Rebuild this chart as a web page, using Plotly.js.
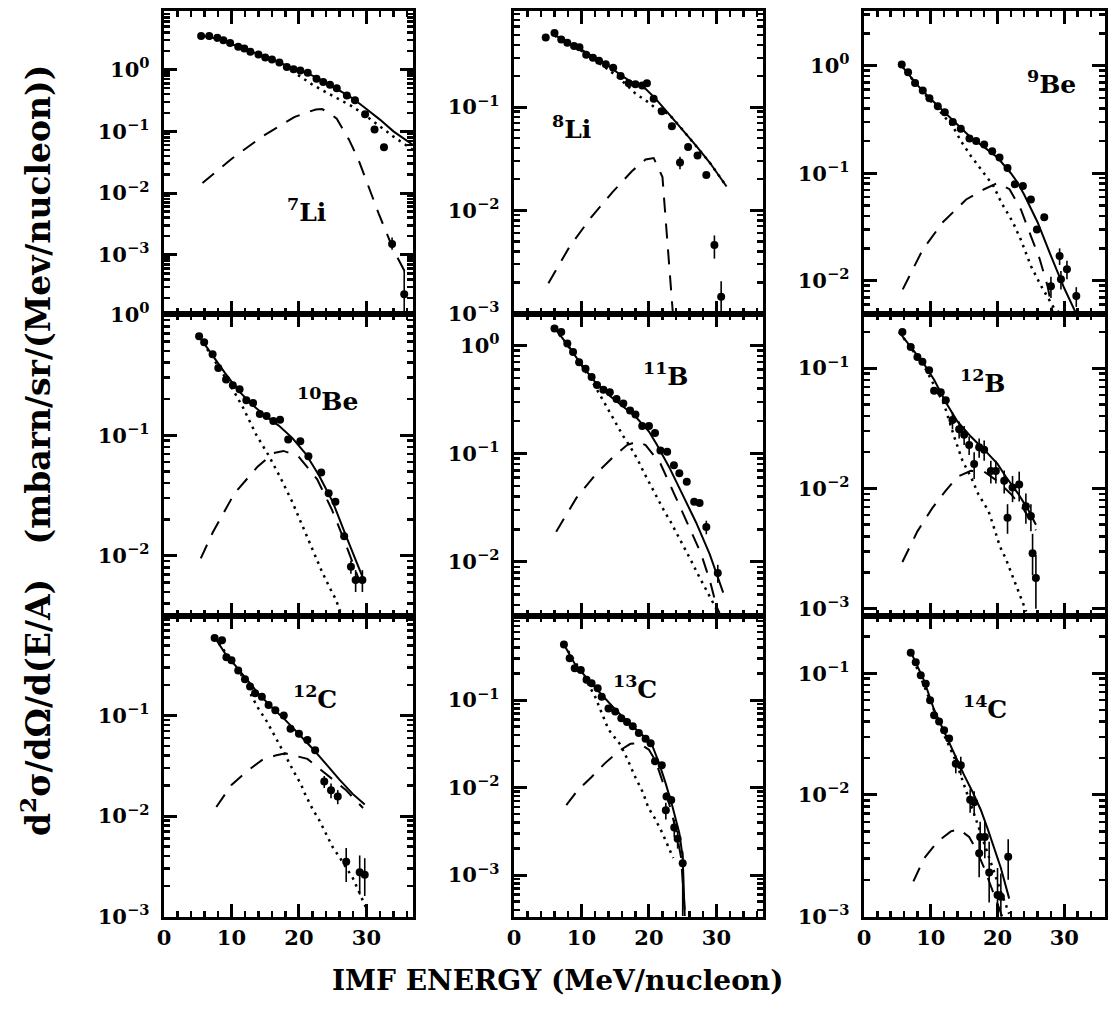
<!DOCTYPE html>
<html><head><meta charset="utf-8">
<script src="https://cdn.plot.ly/plotly-3.0.1.min.js"></script>
<style>html,body{margin:0;padding:0;background:#fff;}#chart{width:1111px;height:1013px;}</style>
</head><body><div id="chart"></div>
<script>
// ---------- DATA (energy in MeV/nucleon, cross-section in mbarn/sr/(MeV/nucleon)) ----------
// 7Li
const li7_E = [5.5, 6.7, 7.9, 8.8, 9.8, 11.0, 11.9, 12.8, 14.0, 15.0, 16.0, 17.1, 18.2, 19.2, 20.2, 21.3, 22.6, 23.6, 24.6, 25.6, 27.1, 28.3, 29.8, 31.2, 32.6, 33.8, 35.6];
const li7_Y = [3.5, 3.5, 3.3, 3.0, 2.7, 2.35, 2.2, 1.95, 1.76, 1.57, 1.46, 1.30, 1.10, 1.01, 0.97, 0.89, 0.71, 0.63, 0.57, 0.50, 0.38, 0.32, 0.19, 0.107, 0.055, 0.0015, 0.00023];
const li7_up = [0,0,0,0,0,0,0,0,0,0,0,0,0,0,0,0,0,0,0,0,0,0,0,0,0,0.0004,0.00032];
const li7_dn = [0,0,0,0,0,0,0,0,0,0,0,0,0,0,0,0,0,0,0,0,0,0,0,0,0,0.0003,0.00012];
const li7_fitE = [5.5, 8, 10, 12, 14, 16, 18, 20, 22, 24, 26, 28, 30, 32, 34, 36.9];
const li7_fitY = [3.55, 3.15, 2.6, 2.15, 1.78, 1.47, 1.18, 0.97, 0.8, 0.62, 0.46, 0.34, 0.23, 0.155, 0.1, 0.06];
const li7_fragE = [5.7, 9.9, 14.6, 19.3, 21.6, 22.5, 23.4, 24.5, 25.6, 27.4, 28.8, 30.3, 31.8, 34.0, 36.0];
const li7_fragY = [0.0145, 0.035, 0.083, 0.17, 0.21, 0.225, 0.23, 0.2, 0.16, 0.074, 0.035, 0.0126, 0.0047, 0.0012, 0.00046];
const li7_thE = [5.5, 10, 15, 18, 20, 22, 24, 26, 28, 30, 32, 34, 36.9];
const li7_thY = [3.5, 2.55, 1.55, 1.12, 0.8, 0.57, 0.43, 0.33, 0.25, 0.175, 0.12, 0.082, 0.05];

// 8Li
const li8_E = [4.7, 6.0, 7.0, 7.9, 8.9, 9.7, 10.7, 11.7, 12.6, 13.6, 14.7, 15.8, 17.0, 18.0, 19.0, 19.7, 20.7, 21.9, 23.4, 24.6, 25.8, 27.2, 28.5, 29.7, 30.7];
const li8_Y = [0.47, 0.52, 0.45, 0.42, 0.39, 0.38, 0.32, 0.30, 0.28, 0.26, 0.24, 0.20, 0.17, 0.166, 0.162, 0.17, 0.12, 0.091, 0.065, 0.029, 0.041, 0.034, 0.022, 0.0046, 0.00145];
const li8_up = [0,0,0,0,0,0,0,0,0,0,0,0,0,0,0,0,0,0,0,0.004,0,0,0,0.0011,0.0006];
const li8_dn = [0,0,0,0,0,0,0,0,0,0,0,0,0,0,0,0,0,0,0,0.004,0,0,0,0.0012,0.0004];
const li8_fitE = [6, 8, 10, 12, 14, 16, 18, 19.5, 21, 23, 25, 27, 29, 31.5];
const li8_fitY = [0.5, 0.42, 0.36, 0.3, 0.25, 0.2, 0.165, 0.15, 0.12, 0.085, 0.06, 0.042, 0.029, 0.017];
const li8_fragE = [5.1, 8.2, 11.4, 14.6, 17.5, 19.5, 20.7, 22.0, 22.3, 22.9, 23.4, 23.6];
const li8_fragY = [0.00196, 0.0044, 0.0085, 0.015, 0.024, 0.031, 0.032, 0.021, 0.0115, 0.0036, 0.00115, 0.0009];
const li8_thE = [6, 10, 14, 16, 18, 20, 21, 22, 23, 25, 27, 29, 31.5];
const li8_thY = [0.49, 0.35, 0.23, 0.18, 0.135, 0.11, 0.097, 0.09, 0.085, 0.06, 0.042, 0.029, 0.017];

// 9Be
const be9_E = [5.65, 6.6, 7.65, 8.8, 9.8, 11.05, 12.1, 13.3, 14.5, 15.8, 16.8, 18.0, 19.2, 20.3, 21.5, 22.6, 23.8, 25.0, 25.9, 27.0, 28.0, 29.3, 29.5, 30.4, 31.8];
const be9_Y = [1.03, 0.87, 0.69, 0.59, 0.50, 0.42, 0.37, 0.30, 0.26, 0.21, 0.20, 0.185, 0.16, 0.14, 0.112, 0.079, 0.076, 0.057, 0.030, 0.039, 0.0089, 0.017, 0.0103, 0.0128, 0.0072];
const be9_up = [0,0,0,0,0,0,0,0,0,0,0,0,0,0,0,0,0,0,0,0,0.002,0.003,0.002,0.0025,0.0015];
const be9_dn = [0,0,0,0,0,0,0,0,0,0,0,0,0,0,0,0,0,0,0,0,0.002,0.003,0.002,0.0025,0.0015];
const be9_fitE = [5.65, 8, 10, 12, 14, 16, 18, 20, 22, 23, 24, 26, 28, 30, 31.8];
const be9_fitY = [1.0, 0.66, 0.49, 0.37, 0.28, 0.215, 0.175, 0.14, 0.1, 0.082, 0.063, 0.035, 0.017, 0.0085, 0.0049];
const be9_fragE = [5.8, 8.8, 11.8, 15.3, 18.0, 20.0, 21.8, 23.5, 25.0, 26.3, 27.5, 28.3];
const be9_fragY = [0.0083, 0.0195, 0.035, 0.057, 0.071, 0.081, 0.071, 0.046, 0.026, 0.016, 0.0089, 0.0049];
const be9_thE = [5.65, 8, 10, 12, 13.5, 14.5, 16, 17.5, 19.4, 20.6, 22.3, 23.5, 25, 26.5, 28.5, 29.5];
const be9_thY = [1.0, 0.65, 0.47, 0.34, 0.26, 0.2, 0.145, 0.109, 0.076, 0.053, 0.035, 0.024, 0.0137, 0.009, 0.0055, 0.0049];

// 10Be
const be10_E = [5.2, 5.95, 7.2, 8.05, 9.2, 10.2, 11.2, 12.2, 13.2, 14.2, 15.2, 16.2, 17.2, 18.4, 20.2, 21.4, 23.3, 24.4, 25.4, 26.7, 27.7, 28.4, 29.4];
const be10_Y = [0.66, 0.59, 0.47, 0.36, 0.29, 0.26, 0.24, 0.195, 0.185, 0.15, 0.144, 0.131, 0.134, 0.092, 0.089, 0.067, 0.049, 0.033, 0.028, 0.0145, 0.0081, 0.0063, 0.0063];
const be10_up = [0,0,0,0,0,0,0,0,0,0,0,0,0,0,0,0,0,0,0,0,0.001,0.0013,0.0013];
const be10_dn = [0,0,0,0,0,0,0,0,0,0,0,0,0,0,0,0,0,0,0,0,0.001,0.0013,0.0013];
const be10_fitE = [5.2, 7, 9, 11, 13, 15, 17, 19, 21, 23, 25, 27, 29.5];
const be10_fitY = [0.66, 0.47, 0.33, 0.235, 0.18, 0.145, 0.12, 0.095, 0.07, 0.046, 0.028, 0.0145, 0.0065];
const be10_fragE = [5.45, 7.2, 10.45, 13.9, 16.2, 17.7, 19.9, 22.7, 24.9, 26.9, 28.9];
const be10_fragY = [0.0095, 0.0155, 0.033, 0.055, 0.071, 0.074, 0.067, 0.043, 0.024, 0.0126, 0.0063];
const be10_thE = [5.2, 8, 10, 11.7, 13.7, 15.5, 17.2, 19, 20.8, 22.2, 23.4, 24.5, 25.5, 26.3];
const be10_thY = [0.66, 0.38, 0.25, 0.17, 0.1, 0.068, 0.045, 0.028, 0.016, 0.0105, 0.0074, 0.0055, 0.0043, 0.0032];

// 11B
const b11_E = [6.0, 7.0, 7.9, 8.75, 9.65, 10.6, 11.5, 12.3, 13.25, 14.2, 15.2, 16.2, 17.2, 18.0, 19.0, 20.0, 20.9, 21.7, 22.7, 23.7, 24.5, 25.6, 26.7, 27.5, 28.5, 30.2];
const b11_Y = [1.43, 1.33, 1.04, 0.87, 0.70, 0.61, 0.51, 0.43, 0.39, 0.37, 0.32, 0.29, 0.25, 0.23, 0.18, 0.18, 0.155, 0.107, 0.104, 0.078, 0.066, 0.055, 0.036, 0.035, 0.021, 0.0079];
const b11_up = [0,0,0,0,0,0,0,0,0,0,0,0,0,0,0,0,0,0,0,0,0,0,0,0,0.003,0.0015];
const b11_dn = [0,0,0,0,0,0,0,0,0,0,0,0,0,0,0,0,0,0,0,0,0,0,0,0,0.003,0.0015];
const b11_fitE = [6, 8, 10, 12, 14, 16, 18, 20, 21.2, 23, 25, 27, 29, 31];
const b11_fitY = [1.45, 1.0, 0.66, 0.46, 0.35, 0.28, 0.22, 0.16, 0.12, 0.075, 0.042, 0.023, 0.0118, 0.0052];
const b11_fragE = [6.25, 9.25, 12.25, 14.7, 16.75, 18.25, 19.5, 21.7, 23.7, 25.7, 27.7, 29.0, 30.0, 30.6];
const b11_fragY = [0.019, 0.039, 0.066, 0.093, 0.12, 0.129, 0.12, 0.081, 0.043, 0.023, 0.012, 0.0068, 0.0039, 0.0032];
const b11_thE = [6, 8, 10, 12, 13.75, 15, 16.1, 17.25, 18.25, 19.3, 20.3, 21.2, 22.2, 23.2, 24.2, 25.2, 26.2, 27.2, 28.2, 29.3, 30.5];
const b11_thY = [1.43, 1.0, 0.66, 0.42, 0.27, 0.196, 0.148, 0.115, 0.09, 0.066, 0.05, 0.039, 0.03, 0.0235, 0.018, 0.0137, 0.0104, 0.0078, 0.006, 0.0045, 0.0032];

// 12B
const b12_E = [5.75, 7.0, 8.0, 8.75, 9.75, 10.5, 11.5, 12.25, 13.25, 14.25, 15.0, 15.75, 16.5, 17.25, 18.0, 19.0, 19.75, 21.0, 21.5, 22.25, 23.25, 24.25, 25.0, 25.25, 25.75];
const b12_Y = [0.20, 0.15, 0.124, 0.113, 0.096, 0.065, 0.063, 0.054, 0.037, 0.031, 0.028, 0.023, 0.016, 0.022, 0.021, 0.014, 0.014, 0.0116, 0.0057, 0.0102, 0.0108, 0.0071, 0.0059, 0.0029, 0.0018];
const b12_up = [0,0,0,0,0,0,0,0,0.006,0.005,0.005,0.004,0.004,0.004,0.004,0.003,0.003,0.0025,0.0017,0.0025,0.003,0.002,0.0015,0.0013,0.001];
const b12_dn = [0,0,0,0,0,0,0,0,0.006,0.005,0.005,0.004,0.004,0.004,0.004,0.003,0.003,0.0025,0.0015,0.0025,0.003,0.002,0.0015,0.001,0.0008];
const b12_fitE = [5.25, 7, 9, 10.5, 12.25, 14, 16, 18, 20, 21.25, 23, 24.5, 25.75];
const b12_fitY = [0.2, 0.15, 0.108, 0.08, 0.052, 0.036, 0.027, 0.021, 0.016, 0.0125, 0.0092, 0.0068, 0.005];
const b12_fragE = [5.75, 8, 10.25, 12.25, 14, 16, 18, 20, 22, 24, 25.75];
const b12_fragY = [0.00245, 0.0044, 0.0069, 0.0096, 0.0125, 0.014, 0.0138, 0.0115, 0.009, 0.0066, 0.0045];
const b12_thE = [5.25, 9, 12, 13.5, 14.75, 16.15, 17.15, 18.65, 19.65, 20.35, 21.25, 22.75, 23.5, 24.3];
const b12_thY = [0.2, 0.104, 0.05, 0.027, 0.017, 0.012, 0.0089, 0.0065, 0.0044, 0.0033, 0.0026, 0.0016, 0.00126, 0.00095];

// 12C
const c12_E = [7.5, 8.6, 9.25, 10.0, 11.0, 12.0, 12.75, 13.5, 14.5, 15.5, 16.5, 17.75, 18.75, 20.0, 21.25, 22.4, 23.75, 24.75, 25.75, 27.0, 29.0, 29.75];
const c12_Y = [0.59, 0.56, 0.38, 0.355, 0.28, 0.23, 0.194, 0.166, 0.154, 0.127, 0.113, 0.10, 0.074, 0.066, 0.057, 0.045, 0.022, 0.018, 0.0156, 0.0035, 0.00275, 0.0026];
const c12_up = [0,0,0,0,0,0,0,0,0,0,0,0,0,0,0,0,0.003,0.003,0.0025,0.0013,0.0013,0.0012];
const c12_dn = [0,0,0,0,0,0,0,0,0,0,0,0,0,0,0,0,0.003,0.003,0.0025,0.0013,0.0011,0.001];
const c12_fitE = [7.5, 9, 10, 12, 14, 16, 18, 20, 22, 24, 26, 28, 29.75];
const c12_fitY = [0.6, 0.42, 0.35, 0.24, 0.165, 0.12, 0.09, 0.065, 0.047, 0.033, 0.023, 0.0165, 0.013];
const c12_fragE = [7.75, 10, 12.25, 14.5, 16.5, 18, 21.25, 24, 27, 29.5];
const c12_fragY = [0.0123, 0.0204, 0.0277, 0.036, 0.040, 0.042, 0.037, 0.026, 0.018, 0.012];
const c12_thE = [7.5, 10, 12, 13, 14, 15.25, 17.25, 18.25, 19.25, 20.25, 21, 22, 23, 24, 25, 26, 28, 30];
const c12_thY = [0.6, 0.35, 0.225, 0.155, 0.117, 0.087, 0.05, 0.037, 0.0275, 0.021, 0.016, 0.0118, 0.0091, 0.0067, 0.0049, 0.0039, 0.0024, 0.0012];

// 13C
const c13_E = [7.4, 8.25, 9.0, 9.9, 10.75, 11.5, 12.4, 13.0, 14.0, 15.0, 15.9, 16.75, 17.6, 18.5, 19.5, 20.25, 20.9, 21.9, 22.5, 22.6, 23.3, 23.75, 24.25, 25.0];
const c13_Y = [0.43, 0.30, 0.23, 0.22, 0.17, 0.155, 0.136, 0.109, 0.080, 0.074, 0.062, 0.056, 0.050, 0.042, 0.036, 0.032, 0.020, 0.018, 0.0055, 0.0079, 0.0072, 0.0035, 0.0026, 0.00136];
const c13_up = [0,0,0,0,0,0,0,0,0,0,0,0,0,0,0,0,0,0,0.0012,0,0,0.0008,0.0006,0.0005];
const c13_dn = [0,0,0,0,0,0,0,0,0,0,0,0,0,0,0,0,0,0,0.0012,0,0,0.0008,0.0006,0.00102];
const c13_fitE = [7.4, 9, 11, 13, 15, 17, 19, 20.5, 21.5, 22.5, 23.5, 24.5, 25, 25.3];
const c13_fitY = [0.43, 0.26, 0.17, 0.115, 0.078, 0.055, 0.04, 0.03, 0.019, 0.011, 0.006, 0.003, 0.0016, 0.00034];
const c13_fragE = [7.75, 9.5, 11.5, 13.5, 15.5, 17.25, 18.5, 20, 21, 22, 23, 24, 24.75, 25.3];
const c13_fragY = [0.0063, 0.0094, 0.0132, 0.019, 0.026, 0.0316, 0.032, 0.027, 0.02, 0.0118, 0.0065, 0.0033, 0.0016, 0.0004];
const c13_thE = [7.4, 10, 12, 13.25, 14, 15.75, 16.75, 18, 19.1, 19.9, 20.9, 22, 23, 23.6];
const c13_thY = [0.43, 0.21, 0.11, 0.062, 0.046, 0.031, 0.0215, 0.013, 0.0088, 0.0059, 0.0044, 0.003, 0.002, 0.00156];

// 14C
const c14_E = [7.0, 7.75, 8.5, 9.25, 9.9, 10.5, 11.25, 12.0, 12.75, 13.75, 14.5, 15.9, 16.5, 17.25, 17.4, 18.1, 18.75, 20.0, 20.5, 21.6];
const c14_Y = [0.147, 0.123, 0.096, 0.082, 0.060, 0.045, 0.040, 0.034, 0.029, 0.018, 0.0175, 0.0091, 0.0087, 0.0033, 0.0045, 0.0045, 0.0023, 0.0015, 0.00145, 0.0031];
const c14_up = [0,0,0,0,0,0,0,0,0,0.003,0.003,0.002,0.002,0.0012,0.0015,0.0015,0.0018,0.001,0.0008,0.0012];
const c14_dn = [0,0,0,0,0,0,0,0,0,0.003,0.003,0.002,0.002,0.0012,0.0015,0.0015,0.001,0.00055,0.00045,0.0011];
const c14_fitE = [7.0, 8, 9, 10.5, 12, 13.5, 15, 16.25, 17.5, 18.5, 19.5, 20.5, 21.75];
const c14_fitY = [0.15, 0.115, 0.087, 0.05, 0.033, 0.0225, 0.0145, 0.0106, 0.0075, 0.0053, 0.0036, 0.0025, 0.0014];
const c14_fragE = [7.4, 9.0, 11.0, 13.0, 14.25, 15.75, 16.75, 18, 19.5, 21];
const c14_fragY = [0.00194, 0.003, 0.0041, 0.005, 0.0052, 0.0045, 0.0036, 0.0025, 0.0015, 0.0009];
const c14_thE = [7, 10, 12, 13.75, 15, 16.5, 17.5, 18.5, 19.5, 20.5, 21.75];
const c14_thY = [0.147, 0.058, 0.031, 0.019, 0.012, 0.007, 0.0048, 0.0033, 0.0023, 0.0016, 0.00105];

// labels
const isotopeLabels = ['<sup>7</sup>Li', '<sup>8</sup>Li', '<sup>9</sup>Be', '<sup>10</sup>Be', '<sup>11</sup>B', '<sup>12</sup>B', '<sup>12</sup>C', '<sup>13</sup>C', '<sup>14</sup>C'];
const yTickVals = [1, 0.1, 0.01, 0.001, 0.0001];
const yTickText = ['10<sup>0</sup>\u00a0', '10<sup>\u22121</sup>\u00a0', '10<sup>\u22122</sup>\u00a0', '10<sup>\u22123</sup>\u00a0', '10<sup>\u22124</sup>\u00a0'];
const xTickVals = [0, 10, 20, 30];
const xTickText = ['0', '10', '20', '30'];
const xTitle = 'IMF ENERGY (MeV/nucleon)';
const yTitle = 'd<sup>2</sup>\u03c3/d\u03a9/d(E/A)\u00a0\u00a0\u00a0(mbarn/sr/(Mev/nucleon))';

// ---------- BUILD ----------
const panels = [
  {E: li7_E, Y: li7_Y, up: li7_up, dn: li7_dn, fE: li7_fitE, fY: li7_fitY, dE: li7_fragE, dY: li7_fragY, tE: li7_thE, tY: li7_thY},
  {E: li8_E, Y: li8_Y, up: li8_up, dn: li8_dn, fE: li8_fitE, fY: li8_fitY, dE: li8_fragE, dY: li8_fragY, tE: li8_thE, tY: li8_thY},
  {E: be9_E, Y: be9_Y, up: be9_up, dn: be9_dn, fE: be9_fitE, fY: be9_fitY, dE: be9_fragE, dY: be9_fragY, tE: be9_thE, tY: be9_thY},
  {E: be10_E, Y: be10_Y, up: be10_up, dn: be10_dn, fE: be10_fitE, fY: be10_fitY, dE: be10_fragE, dY: be10_fragY, tE: be10_thE, tY: be10_thY},
  {E: b11_E, Y: b11_Y, up: b11_up, dn: b11_dn, fE: b11_fitE, fY: b11_fitY, dE: b11_fragE, dY: b11_fragY, tE: b11_thE, tY: b11_thY},
  {E: b12_E, Y: b12_Y, up: b12_up, dn: b12_dn, fE: b12_fitE, fY: b12_fitY, dE: b12_fragE, dY: b12_fragY, tE: b12_thE, tY: b12_thY},
  {E: c12_E, Y: c12_Y, up: c12_up, dn: c12_dn, fE: c12_fitE, fY: c12_fitY, dE: c12_fragE, dY: c12_fragY, tE: c12_thE, tY: c12_thY},
  {E: c13_E, Y: c13_Y, up: c13_up, dn: c13_dn, fE: c13_fitE, fY: c13_fitY, dE: c13_fragE, dY: c13_fragY, tE: c13_thE, tY: c13_thY},
  {E: c14_E, Y: c14_Y, up: c14_up, dn: c14_dn, fE: c14_fitE, fY: c14_fitY, dE: c14_fragE, dY: c14_fragY, tE: c14_thE, tY: c14_thY}
];

// layout geometry (paper fractions)
const W = 1111, H = 1013;
const colDom = [[164/W, 413/W], [514/W, 763/W], [864/W, 1105/W]];
const colXmax = [36.9, 36.9, 36.1];
const rowDom = [[1-314/H, 1-11/H], [1-616/H, 1-314/H], [1-917/H, 1-616/H]];
const yRanges = [[-3.96, 0.95], [-3.005, -0.07], [-2.31, 0.51], [-2.5, 0.005], [-2.5, 0.29], [-3.06, -0.55], [-3.005, -0.01], [-3.48, -0.04], [-3.005, -0.53]];
const labelPos = [[306,210],[571,127],[1051,82],[327,399],[666,375],[983,381],[315,697],[635,687],[985,707]];

const FONT = 'DejaVu Serif';
const INK = '#000';
const minorY = [];
for (let k = -5; k <= 1; k++) for (let d = 2; d <= 9; d++) minorY.push(d * Math.pow(10, k));

const traces = [];
const layout = {
  width: W, height: H, margin: {l:0, r:0, t:0, b:0},
  paper_bgcolor: '#fff', plot_bgcolor: '#fff', showlegend: false,
  font: {family: FONT, color: INK, size: 20},
  annotations: []
};

panels.forEach((p, i) => {
  const r = Math.floor(i / 3), c = i % 3;
  const n = i + 1;
  const xa = n === 1 ? 'x' : 'x' + n;
  const ya = n === 1 ? 'y' : 'y' + n;
  traces.push({x: p.tE, y: p.tY, xaxis: xa, yaxis: ya, mode: 'lines', line: {color: INK, width: 2.5, dash: '2.5px,5px'}, hoverinfo: 'skip'});
  traces.push({x: p.dE, y: p.dY, xaxis: xa, yaxis: ya, mode: 'lines', line: {color: INK, width: 2, dash: '15px,11px'}, hoverinfo: 'skip'});
  traces.push({x: p.fE, y: p.fY, xaxis: xa, yaxis: ya, mode: 'lines', line: {color: INK, width: 2}, hoverinfo: 'skip'});
  traces.push({x: p.E, y: p.Y, xaxis: xa, yaxis: ya, mode: 'markers', marker: {color: INK, size: 8},
    error_y: {type: 'data', symmetric: false, array: p.up, arrayminus: p.dn, color: INK, thickness: 1.6, width: 0}});
  layout['xaxis' + (n === 1 ? '' : n)] = {
    domain: colDom[c], anchor: ya, range: [0, colXmax[c]],
    showline: true, linecolor: INK, linewidth: 3, mirror: 'allticks', ticks: 'inside',
    ticklen: 13, tickwidth: 3, tickcolor: INK, showgrid: false, zeroline: false,
    tickmode: 'array', tickvals: xTickVals, ticktext: xTickText,
    showticklabels: r === 2,
    tickfont: {family: FONT, size: 21, color: INK, weight: 'bold'},
    minor: {ticks: 'inside', dtick: 2, tick0: 0, ticklen: 6, tickwidth: 2.5, tickcolor: INK}
  };
  layout['yaxis' + (n === 1 ? '' : n)] = {
    domain: rowDom[r], anchor: xa, type: 'log', range: yRanges[i],
    showline: true, linecolor: INK, linewidth: 3, mirror: 'allticks', ticks: 'inside',
    ticklen: 13, tickwidth: 3, tickcolor: INK, showgrid: false, zeroline: false,
    tickmode: 'array', tickvals: yTickVals, ticktext: yTickText,
    tickfont: {family: FONT, size: 21, color: INK, weight: 'bold'},
    minor: {ticks: 'inside', tickmode: 'array', tickvals: minorY, ticklen: 6, tickwidth: 2.5, tickcolor: INK}
  };
  layout.annotations.push({xref: 'paper', yref: 'paper', x: labelPos[i][0]/W, y: 1 - labelPos[i][1]/H,
    text: isotopeLabels[i], showarrow: false, xanchor: 'center', yanchor: 'middle',
    font: {family: FONT, size: 25, color: INK, weight: 'bold'}});
});

layout.annotations.push({xref: 'paper', yref: 'paper', x: 557/W, y: 1 - 980/H, text: xTitle, showarrow: false,
  xanchor: 'center', yanchor: 'middle', font: {family: FONT, size: 28, color: INK, weight: 'bold'}});
layout.annotations.push({xref: 'paper', yref: 'paper', x: 36/W, y: 1 - 451/H, text: yTitle, showarrow: false, textangle: -90,
  xanchor: 'center', yanchor: 'middle', font: {family: FONT, size: 33, color: INK, weight: 'bold'}});

Plotly.newPlot('chart', traces, layout, {displayModeBar: false, staticPlot: true});
</script>
</body></html>
